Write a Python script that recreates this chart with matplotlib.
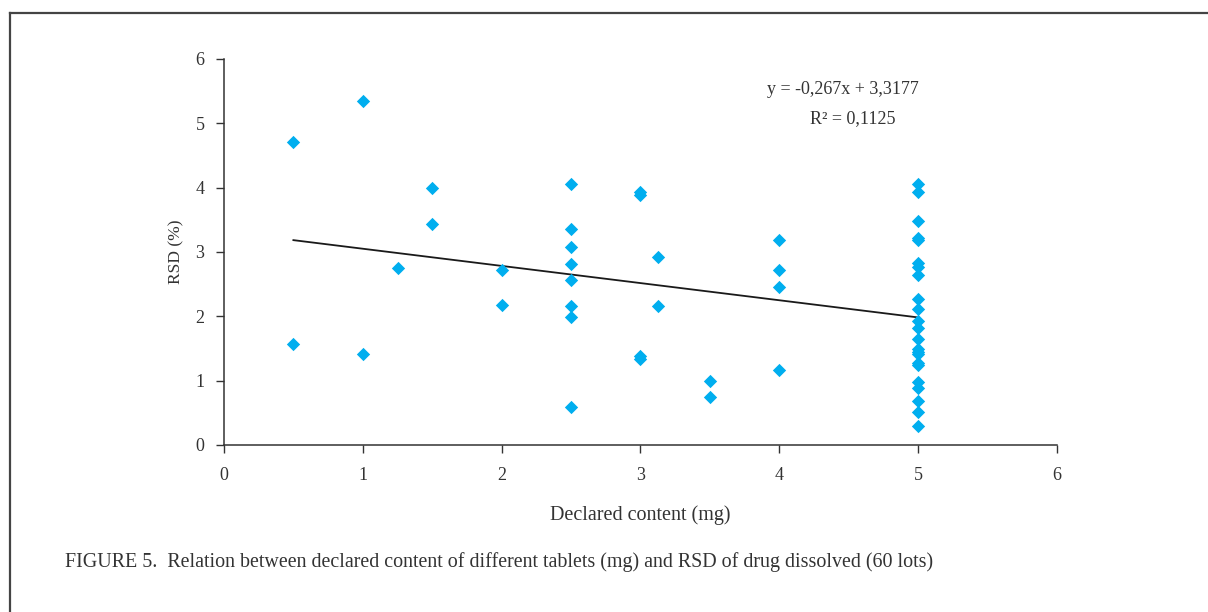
import matplotlib
matplotlib.use("Agg")
import matplotlib.pyplot as plt
from matplotlib.lines import Line2D
import numpy as np

# declared content (mg) and RSD (%) per lot
content = [
    0.5, 0.5,
    1.0, 1.0,
    1.25,
    1.5, 1.5,
    2.0, 2.0,
    2.5, 2.5, 2.5, 2.5, 2.5, 2.5, 2.5, 2.5,
    3.0, 3.0, 3.0, 3.0,
    3.125, 3.125,
    3.5, 3.5,
    4.0, 4.0, 4.0, 4.0,
    5.0, 5.0, 5.0, 5.0, 5.0, 5.0, 5.0, 5.0, 5.0, 5.0, 5.0,
    5.0, 5.0, 5.0, 5.0, 5.0, 5.0, 5.0, 5.0, 5.0, 5.0, 5.0, 5.0,
]
rsd = [
    4.71, 1.57,
    5.35, 1.42,
    2.75,
    4.00, 3.44,
    2.72, 2.18,
    4.05, 3.36, 3.07, 2.82, 2.57, 2.16, 1.99, 0.59,
    3.94, 3.88, 1.38, 1.33,
    2.92, 2.16,
    1.00, 0.74,
    3.19, 2.72, 2.45, 1.16,
    4.05, 3.93, 3.48, 3.22, 3.19, 2.83, 2.77, 2.65, 2.27, 2.11, 1.93,
    1.82, 1.64, 1.49, 1.45, 1.42, 1.28, 1.25, 0.98, 0.88, 0.69, 0.51, 0.29,
]

# trend line from the chart's equation
slope = -0.267
intercept = 3.3177
r2_label = "0,1125"

x_ticks = [0, 1, 2, 3, 4, 5, 6]
y_ticks = [0, 1, 2, 3, 4, 5, 6]

plt.rcParams["font.family"] = ["Liberation Serif", "DejaVu Serif"]

fig = plt.figure(figsize=(12.08, 6.12), dpi=100)
ax = fig.add_axes([0.1854, 0.2729, 0.875 - 0.1854, 0.9036 - 0.2729])

ax.scatter(content, rsd, marker="D", s=46, color="#00AEEF", linewidths=0, zorder=3)

fit_x = np.array([min(content), max(content)])
ax.plot(fit_x, slope * fit_x + intercept, color="#1a1a1a", lw=1.3, zorder=2)

ax.set_xlim(0, 6)
ax.set_ylim(0, 6)
ax.set_xticks(x_ticks)
ax.set_yticks(y_ticks)
ax.tick_params(direction="out", length=6, width=1.0, colors="#333333",
               labelsize=13, pad=8)
ax.tick_params(axis="x", pad=10)
for side in ("top", "right"):
    ax.spines[side].set_visible(False)
for side in ("left", "bottom"):
    ax.spines[side].set_color("#333333")
    ax.spines[side].set_linewidth(1.1)

ax.set_xlabel("Declared content (mg)", fontsize=14.5, color="#333333", labelpad=15)
ax.set_ylabel("RSD (%)", fontsize=12.5, color="#333333", labelpad=8)

ax.text(4.46, 5.53, "y = -0,267x + 3,3177", fontsize=13, color="#333333",
        ha="center", va="center")
ax.text(4.53, 5.07, "R² = " + r2_label, fontsize=13, color="#333333",
        ha="center", va="center")

fig.text(0.054, 1 - 562 / 612,
         "FIGURE 5.  Relation between declared content of different tablets (mg) "
         "and RSD of drug dissolved (60 lots)",
         fontsize=14.4, color="#333333", ha="left", va="center")

# page frame (left and top edges)
fx = 10 / 1208
fy = 1 - 13 / 612
fig.add_artist(Line2D([fx, fx], [0, fy], color="#444444", lw=1.6,
                      transform=fig.transFigure))
fig.add_artist(Line2D([fx, 1], [fy, fy], color="#444444", lw=1.6,
                      transform=fig.transFigure))

fig.savefig("out.png", dpi=100)
